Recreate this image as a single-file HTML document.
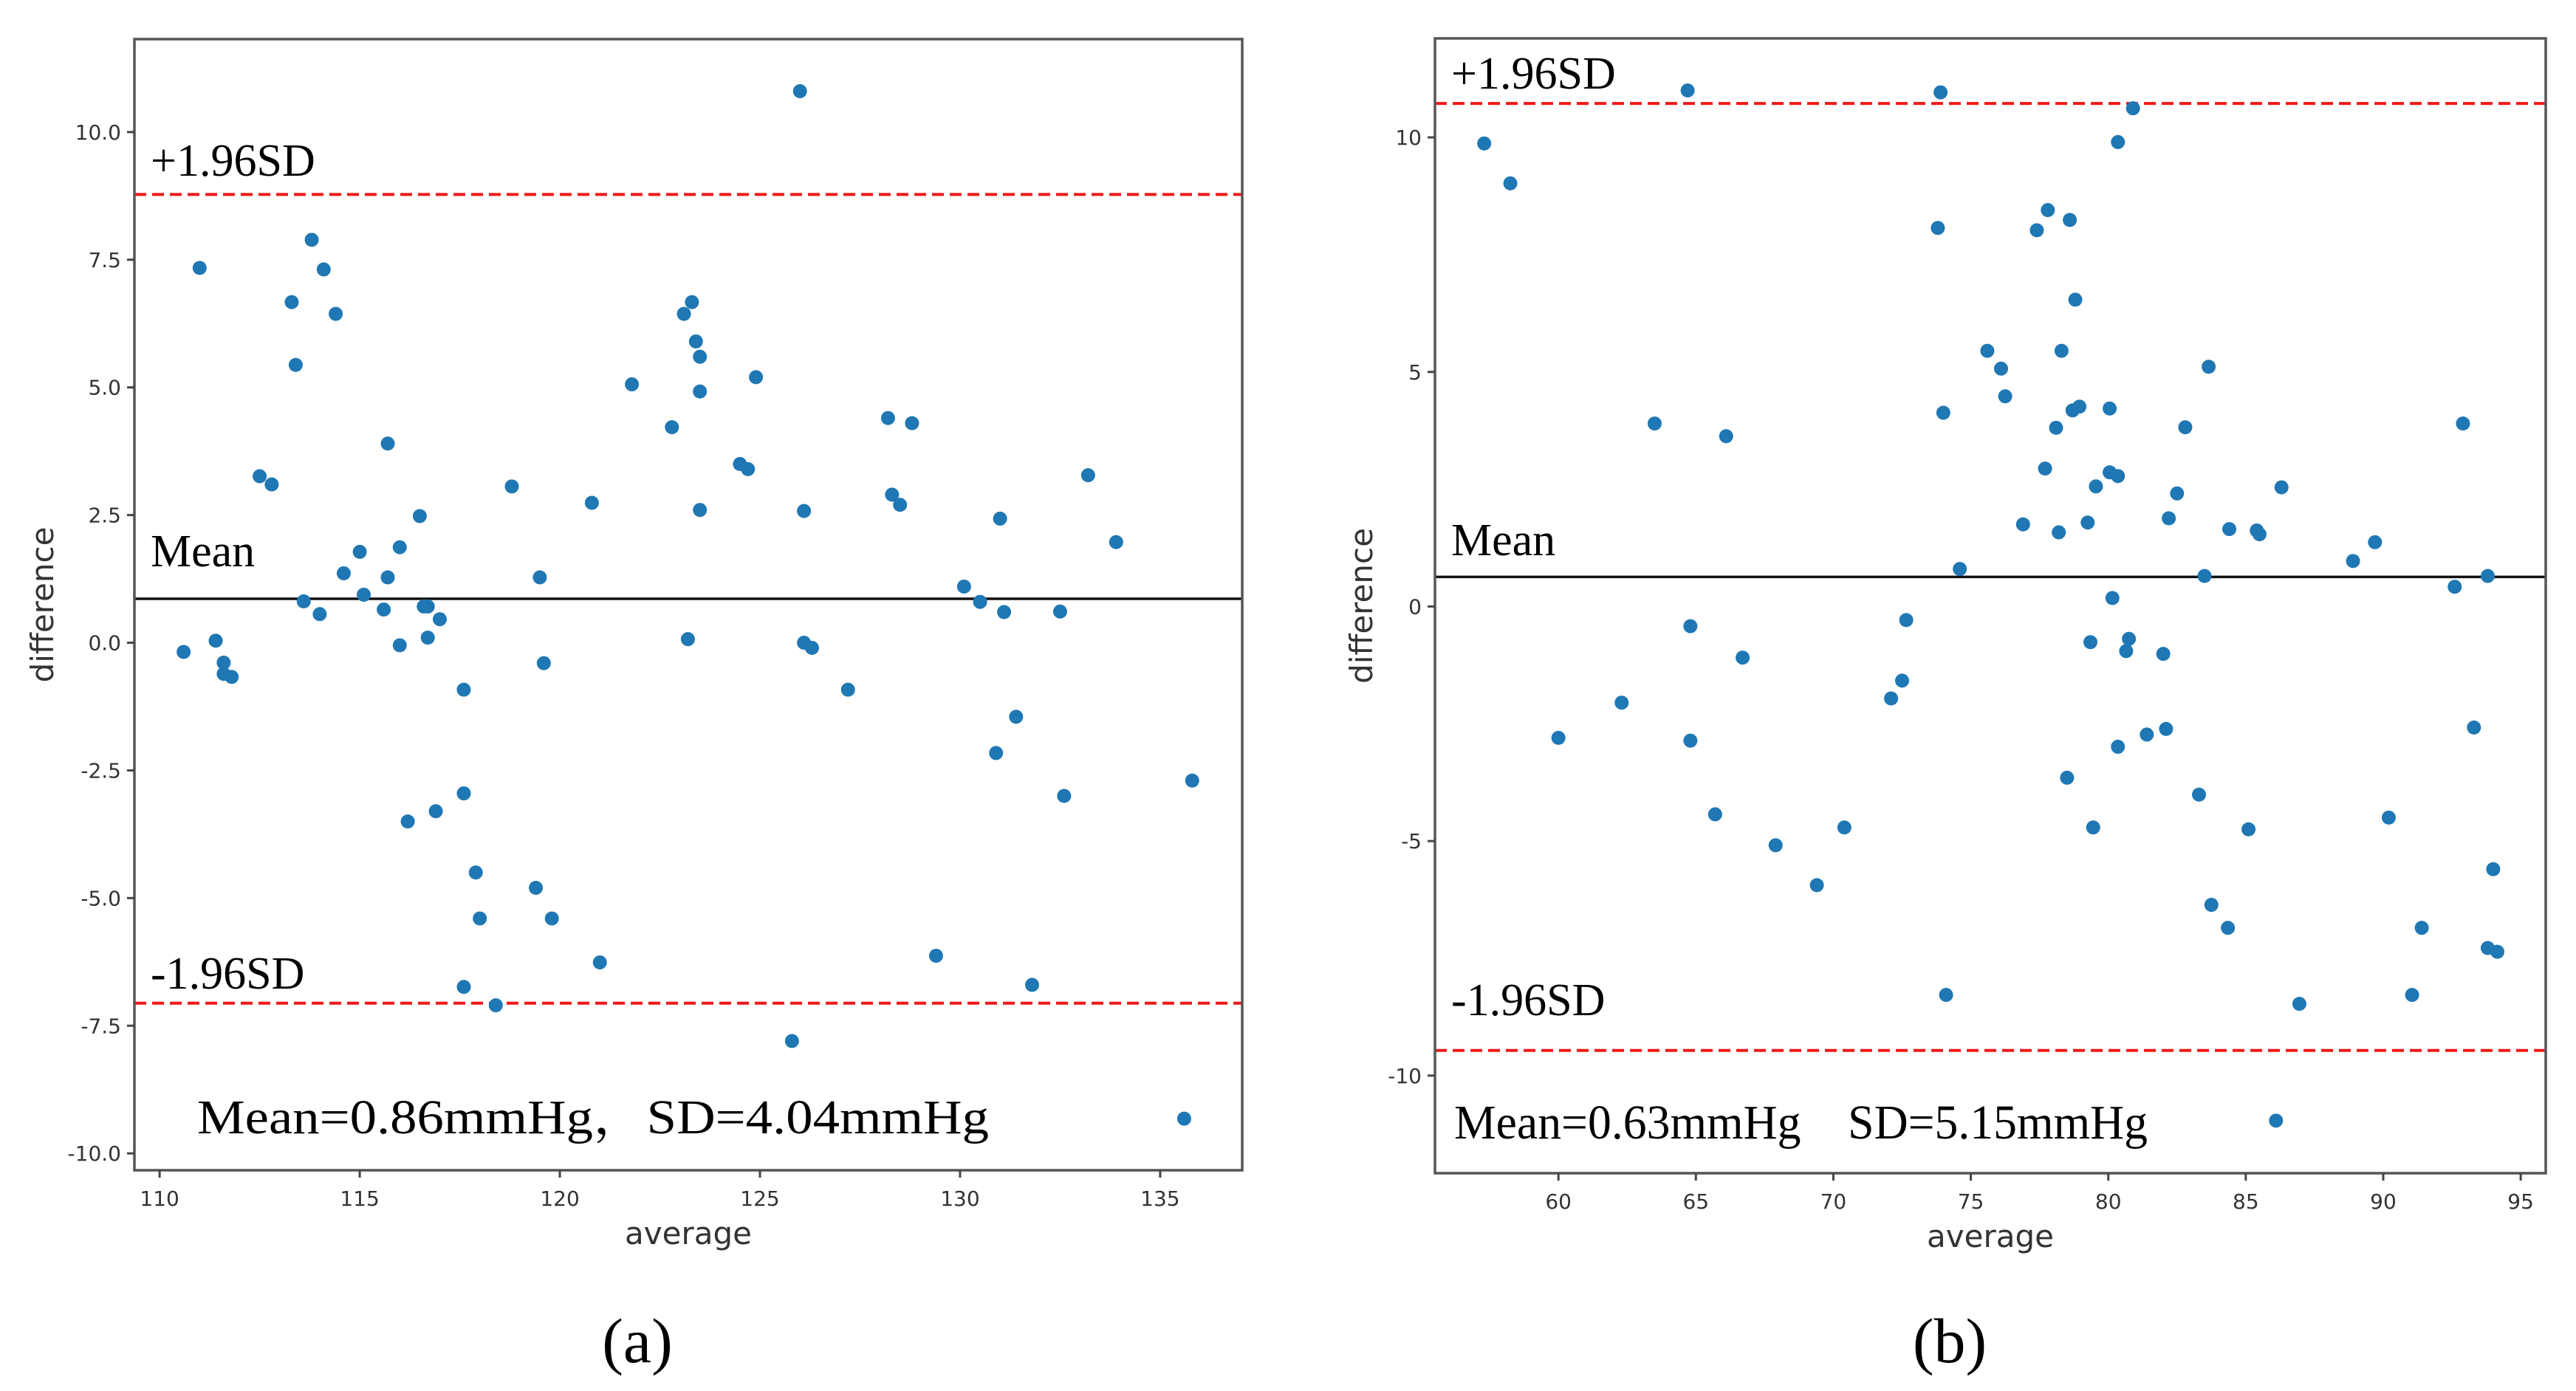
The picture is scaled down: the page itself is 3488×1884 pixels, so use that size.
<!DOCTYPE html>
<html><head><meta charset="utf-8"><style>
html,body{margin:0;padding:0;background:#fff}
svg{display:block}
text{font-family:"DejaVu Sans","Liberation Sans",sans-serif}
.ser{font-family:"Liberation Serif","Noto Serif CJK SC",serif;fill:#000;white-space:pre}
</style></head><body>
<svg id="fig" width="3488" height="1884" viewBox="0 0 3488 1884" xmlns="http://www.w3.org/2000/svg">
<rect width="3488" height="1884" fill="#fff"/>
<g id="pa"></g>
<g id="pb"></g>
<text class="ser" x="863" y="1845" font-size="86" text-anchor="middle">(a)</text>
<text class="ser" x="2640" y="1845" font-size="86" text-anchor="middle">(b)</text>
</svg>
<script>
const aX=[110.6,111.0,111.4,111.6,111.6,111.8,112.5,112.8,113.3,113.4,113.6,113.8,114.0,114.1,114.4,114.6,115.0,115.1,115.6,115.7,115.7,116.0,116.0,116.2,116.5,116.6,116.7,116.7,117.0,116.9,117.6,117.6,117.6,117.9,118.0,118.4,118.8,119.4,119.5,119.6,119.8,120.8,121.0,121.8,122.8,123.1,123.2,123.3,123.4,123.5,123.5,123.5,124.5,124.7,124.9,125.8,126.0,126.1,126.1,126.3,127.2,128.2,128.3,128.5,128.8,129.4,130.1,130.5,130.9,131.0,131.1,131.4,131.8,132.5,132.6,133.2,133.9,135.6,135.8];
const aY=[-0.18,7.34,0.04,-0.39,-0.61,-0.67,3.26,3.10,6.67,5.44,0.81,7.89,0.56,7.31,6.44,1.36,1.78,0.94,0.65,3.90,1.28,1.87,-0.05,-3.5,2.48,0.71,0.71,0.1,0.46,-3.3,-0.92,-2.95,-6.74,-4.5,-5.4,-7.1,3.06,-4.8,1.28,-0.4,-5.4,2.74,-6.26,5.06,4.22,6.44,0.07,6.67,5.9,5.6,4.92,2.6,3.5,3.4,5.2,-7.8,10.8,2.58,0.0,-0.1,-0.92,4.4,2.9,2.7,4.3,-6.13,1.1,0.8,-2.16,2.43,0.6,-1.45,-6.7,0.61,-3.0,3.28,1.97,-9.32,-2.7];
const bX=[57.3,58.25,60.0,62.3,63.5,64.7,64.8,64.8,65.7,66.1,66.7,67.9,69.4,70.4,72.1,72.5,72.65,73.8,73.9,74.0,74.1,74.6,75.6,76.1,76.25,76.9,77.4,77.7,77.8,78.1,78.2,78.3,78.5,78.6,78.7,78.8,78.95,79.25,79.35,79.45,79.55,80.05,80.05,80.15,80.35,80.35,80.35,80.65,80.75,80.9,81.4,82.0,82.1,82.2,82.5,82.8,83.3,83.5,83.65,83.75,84.35,84.4,85.1,85.4,85.5,86.1,86.3,86.95,88.9,89.7,90.2,91.05,91.4,92.6,92.9,93.3,93.8,93.8,94.0,94.15];
const bY=[9.87,9.02,-2.8,-2.05,3.9,11.0,-0.42,-2.86,-4.43,3.63,-1.09,-5.09,-5.94,-4.71,-1.96,-1.58,-0.29,8.07,10.96,4.13,-8.28,0.80,5.45,5.07,4.48,1.75,8.02,2.94,8.45,3.81,1.58,5.45,-3.65,8.24,4.18,6.54,4.26,1.79,-0.76,-4.71,2.56,4.22,2.86,0.18,-2.99,9.9,2.78,-0.95,-0.69,10.62,-2.73,-1.01,-2.61,1.88,2.41,3.82,-4.01,0.65,5.11,-6.36,-6.85,1.65,-4.75,1.62,1.54,-10.96,2.54,-8.47,0.97,1.37,-4.5,-8.28,-6.85,0.42,3.9,-2.58,0.65,-7.28,-5.6,-7.36];
const aXTicks=[110,115,120,125,130,135];
const aYTicks=[-10,-7.5,-5,-2.5,0,2.5,5,7.5,10];
const bXTicks=[60,65,70,75,80,85,90,95];
const bYTicks=[-10,-5,0,5,10];
const aStats=[0.86,4.04];
const bStats=[0.63,5.15];
const NS="http://www.w3.org/2000/svg";
function mk(p,t,at){const e=document.createElementNS(NS,t);for(const k in at)e.setAttribute(k,at[k]);p.appendChild(e);return e;}
function draw(g,cfg){
  const {L,R,T,B,x0,x1,y0,y1}=cfg;
  const sx=v=>L+(v-x0)/(x1-x0)*(R-L);
  const sy=v=>B-(v-y0)/(y1-y0)*(B-T);
  const mean=cfg.stats[0],sd=cfg.stats[1];
  const up=mean+1.96*sd,lo=mean-1.96*sd;
  let e;
  e=mk(g,'line',{x1:L,x2:R,y1:sy(up),y2:sy(up),stroke:'#f01818','stroke-width':4,'stroke-dasharray':'16,8'});
  
  
  e=mk(g,'line',{x1:L,x2:R,y1:sy(lo),y2:sy(lo),stroke:'#f01818','stroke-width':4,'stroke-dasharray':'16,8'});
  
  
  e=mk(g,'line',{x1:L,x2:R,y1:sy(mean),y2:sy(mean),stroke:'#111','stroke-width':3.5});
  
  
  for(let i=0;i<cfg.xs.length;i++){
    e=mk(g,'circle',{cx:sx(cfg.xs[i]),cy:sy(cfg.ys[i]),r:9.5,fill:'#1f77b4'});
    
    
  }
  e=mk(g,'rect',{x:L,y:T,width:R-L,height:B-T,fill:'none',stroke:'#555','stroke-width':3.5});
  
  
  cfg.xt.forEach(v=>{
    e=mk(g,'line',{x1:sx(v),x2:sx(v),y1:B,y2:B+10,stroke:'#444','stroke-width':3});
    
    
    e=mk(g,'text',{x:sx(v),y:B+48,'font-size':28,fill:'#333','text-anchor':'middle'});
    e.textContent=String(v);
    
    
  });
  cfg.yt.forEach(v=>{
    e=mk(g,'line',{x1:L-10,x2:L,y1:sy(v),y2:sy(v),stroke:'#444','stroke-width':3});
    
    
    e=mk(g,'text',{x:L-18,y:sy(v)+10,'font-size':28,fill:'#333','text-anchor':'end'});
    e.textContent=cfg.yfmt(v);
    
    
  });
  e=mk(g,'text',{x:(L+R)/2,y:B+100,'font-size':42,fill:'#333','text-anchor':'middle'});
  e.textContent='average';
  
  
  e=mk(g,'text',{x:0,y:0,'font-size':42,fill:'#333','text-anchor':'middle',transform:`translate(${cfg.ylx},${(T+B)/2}) rotate(-90)`});
  e.textContent='difference';
  
  
  const ann=[['+1.96SD',cfg.a1,'upper-limit-label'],['Mean',cfg.a2,'mean-label'],['-1.96SD',cfg.a3,'lower-limit-label']];
  ann.forEach(a=>{
    e=mk(g,'text',{x:L+22,y:a[1],'font-size':62,class:'ser'});
    e.textContent=a[0];
    
    
  });
  e=mk(g,'text',{x:cfg.sx,y:cfg.sy,'font-size':66,class:'ser',textLength:cfg.sw,lengthAdjust:'spacingAndGlyphs'});
  e.setAttributeNS('http://www.w3.org/XML/1998/namespace','xml:space','preserve');
  e.textContent=cfg.stxt;
  
  
}
draw(document.getElementById('pa'),{L:182,R:1682,T:53,B:1585,x0:109.37,x1:137.05,y0:-10.33,y1:11.82,
  xs:aX,ys:aY,stats:aStats,xt:aXTicks,yt:aYTicks,yfmt:v=>v.toFixed(1),ylx:72,
  a1:238,a2:767,a3:1339,sx:267,sy:1535,sw:1072,stxt:'Mean=0.86mmHg，SD=4.04mmHg'});
draw(document.getElementById('pb'),{L:1943,R:3447,T:52,B:1589,x0:55.51,x1:95.91,y0:-12.08,y1:12.11,
  xs:bX,ys:bY,stats:bStats,xt:bXTicks,yt:bYTicks,yfmt:v=>String(v),ylx:1858,
  a1:120,a2:752,a3:1375,sx:1969,sy:1542,sw:939,stxt:'Mean=0.63mmHg\u00a0\u00a0\u00a0\u00a0SD=5.15mmHg'});
</script>
</body></html>
